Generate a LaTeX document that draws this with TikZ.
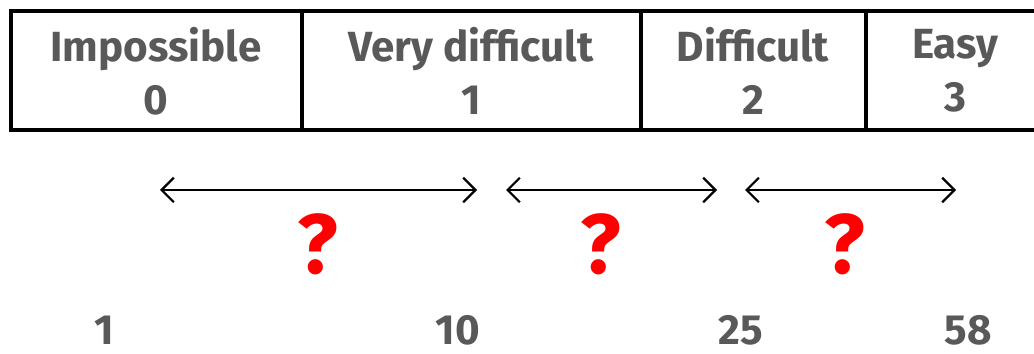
\documentclass[tikz,border=0pt]{standalone}
\usepackage{fontspec}
\setmainfont{Fira Sans}
\usepackage{xcolor}
\usepackage{tikz}
\usetikzlibrary{positioning,arrows.meta}

\definecolor{txtgray}{HTML}{595959}
\definecolor{qred}{HTML}{FF0000}

\tikzset{
    cell/.style={font=\fontsize{24}{30}\selectfont\bfseries, text=txtgray, align=center},
    val/.style={font=\fontsize{24}{30}\selectfont\bfseries, text=txtgray},
    qmark/.style={font=\fontsize{48}{52}\selectfont\bfseries, text=qred},
    spanarrow/.style={{Straight Barb[length=7pt,width=14pt]}-{Straight Barb[length=7pt,width=14pt]}, line width=1.3pt}
}

\begin{document}
\begin{tikzpicture}[x=0.02cm, y=-0.02cm]
    \useasboundingbox (0,0) rectangle (1034,354);

    % Tabel met niveaus
    \draw[line width=2pt] (1040,11) -- (11,11) -- (11,130) -- (1040,130);
    \foreach \xd in {302,641,866}
        \draw[line width=2pt] (\xd,11) -- (\xd,130);

    \node[cell] (imp) at (156,71) {Impossible\\0};
    \node[cell] (vdif) at (471,71) {Very difficult\\1};
    \node[cell] (dif) at (753,71) {Difficult\\2};
    \node[cell] (easy) at (955,71) {Easy\\3};

    % Intervallen
    \coordinate (a1) at (160,190);
    \coordinate (a2) at (477,190);
    \coordinate (b1) at (506,190);
    \coordinate (b2) at (717,190);
    \coordinate (c1) at (745,190);
    \coordinate (c2) at (956,190);
    \draw[spanarrow] (a1) -- (a2);
    \draw[spanarrow] (b1) -- (b2);
    \draw[spanarrow] (c1) -- (c2);

    % Vraagtekens
    \node[qmark] (q1) at (318,244) {?};
    \node[qmark] (q2) at (601,244) {?};
    \node[qmark] (q3) at (845,244) {?};

    % Grenswaarden
    \node[val] (n1) at (104,330) {1};
    \node[val] (n10) at (458,330) {10};
    \node[val] (n25) at (741,330) {25};
    \node[val] (n58) at (968,330) {58};
\end{tikzpicture}
\end{document}
